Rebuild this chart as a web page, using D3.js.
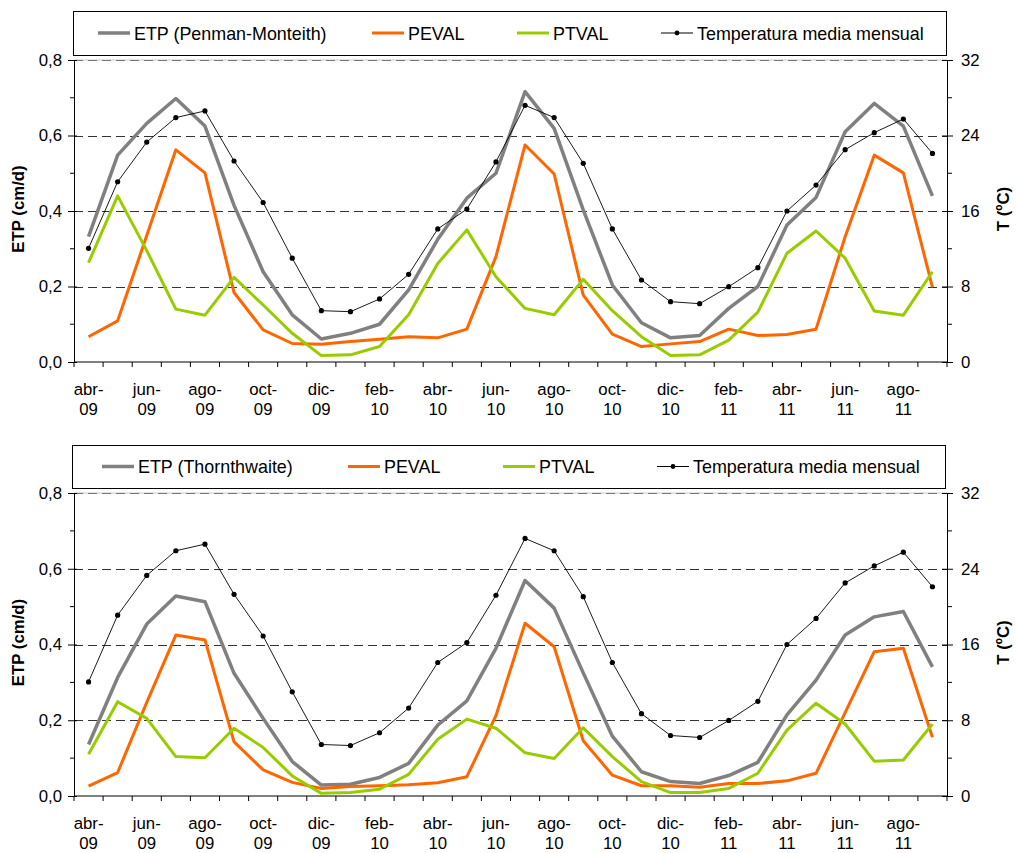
<!DOCTYPE html>
<html>
<head>
<meta charset="utf-8">
<script src="https://cdn.jsdelivr.net/npm/d3@7"></script>
<style>
    body { margin: 0; background: #fff; }
    svg text { font-family: "Liberation Sans", Arial, sans-serif; fill: #000; }
</style>
</head>
<body>
<svg id="chart" width="1016" height="853"></svg>
<script>
// months abr-09 .. sep-11
var months = ["abr-09", "may-09", "jun-09", "jul-09", "ago-09", "sep-09", "oct-09", "nov-09", "dic-09",
    "ene-10", "feb-10", "mar-10", "abr-10", "may-10", "jun-10", "jul-10", "ago-10", "sep-10", "oct-10",
    "nov-10", "dic-10", "ene-11", "feb-11", "mar-11", "abr-11", "may-11", "jun-11", "jul-11", "ago-11", "sep-11"];

// temperatura media mensual (ºC)
var temp = [12.05, 19.1, 23.3, 25.9, 26.6, 21.3, 16.9, 11.0, 5.44, 5.33, 6.68, 9.29, 14.1, 16.2, 21.2,
    27.2, 25.9, 21.05, 14.1, 8.69, 6.39, 6.18, 7.98, 10.0, 16.0, 18.75, 22.5, 24.3, 25.75, 22.1];

// panel 1 (cm/d)
var etpPM = [0.332, 0.548, 0.632, 0.698, 0.625, 0.415, 0.239, 0.125, 0.061, 0.076, 0.100, 0.191, 0.325, 0.434, 0.500,
    0.716, 0.619, 0.403, 0.204, 0.104, 0.064, 0.070, 0.142, 0.200, 0.363, 0.436, 0.610, 0.685, 0.625, 0.440];
var pevalPM = [0.067, 0.109, 0.335, 0.562, 0.501, 0.184, 0.085, 0.049, 0.047, 0.054, 0.060, 0.067, 0.064, 0.087, 0.279,
    0.575, 0.498, 0.177, 0.074, 0.041, 0.048, 0.054, 0.087, 0.070, 0.073, 0.087, 0.332, 0.548, 0.501, 0.198];
var ptvalPM = [0.263, 0.440, 0.295, 0.140, 0.124, 0.224, 0.151, 0.076, 0.017, 0.019, 0.041, 0.125, 0.261, 0.350, 0.226,
    0.142, 0.125, 0.219, 0.136, 0.067, 0.017, 0.019, 0.058, 0.132, 0.288, 0.347, 0.275, 0.135, 0.124, 0.239];

// panel 2 (cm/d)
var etpTH = [0.136, 0.313, 0.454, 0.528, 0.513, 0.324, 0.205, 0.091, 0.029, 0.031, 0.049, 0.086, 0.187, 0.251, 0.390,
    0.569, 0.496, 0.325, 0.158, 0.064, 0.038, 0.033, 0.054, 0.089, 0.214, 0.306, 0.425, 0.473, 0.487, 0.341];
var pevalTH = [0.026, 0.062, 0.247, 0.425, 0.412, 0.143, 0.069, 0.036, 0.020, 0.025, 0.027, 0.030, 0.035, 0.051, 0.212,
    0.456, 0.394, 0.146, 0.055, 0.027, 0.027, 0.023, 0.033, 0.033, 0.040, 0.060, 0.220, 0.381, 0.390, 0.155];
var ptvalTH = [0.110, 0.249, 0.205, 0.104, 0.101, 0.179, 0.128, 0.053, 0.007, 0.009, 0.018, 0.057, 0.150, 0.203, 0.179,
    0.114, 0.099, 0.180, 0.104, 0.038, 0.009, 0.009, 0.020, 0.060, 0.174, 0.245, 0.190, 0.092, 0.095, 0.190];

var etpTicks = [0, 0.2, 0.4, 0.6, 0.8],
    etpMinor = [0.1, 0.3, 0.5, 0.7],
    tTicks = [0, 8, 16, 24, 32],
    tMinor = [4, 12, 20, 28];

var colors = { etp: "#808080", peval: "#ff6600", ptval: "#99cc00", temp: "#000" };

window.onload = function()
{
    main();
};

function main()
{
    var svg = d3.select("#chart");

    _drawPanel(svg, {
        top: 60, bottom: 362, left: 74, right: 947,
        legend: { x0: 73, x1: 946, y0: 11, y1: 55, items: [98, 372, 517, 661] },
        etpName: "ETP (Penman-Monteith)",
        etp: etpPM, peval: pevalPM, ptval: ptvalPM
    });

    _drawPanel(svg, {
        top: 493, bottom: 796, left: 74, right: 947,
        legend: { x0: 72, x1: 945, y0: 445, y1: 488, items: [102, 348, 503, 657] },
        etpName: "ETP (Thornthwaite)",
        etp: etpTH, peval: pevalTH, ptval: ptvalTH
    });
}

function _drawPanel(svg, p)
{
    var g = svg.append("g"),
        x = d3.scaleBand().domain(months).range([p.left, p.right]).padding(0),
        y = d3.scaleLinear().domain([0, 0.8]).range([p.bottom, p.top]),
        yT = d3.scaleLinear().domain([0, 32]).range([p.bottom, p.top]),
        cx = function(d, i) { return x(months[i]) + x.bandwidth() / 2; },
        fmt = function(d) { return d3.format(".1f")(d).replace(".", ","); };

    // top light border + dashed grid
    g.append("line")
        .attr("x1", p.left).attr("x2", p.right)
        .attr("y1", y(0.8)).attr("y2", y(0.8))
        .attr("stroke", "#c8c8c8").attr("stroke-width", 1);
    g.selectAll(".grid")
        .data(etpTicks.slice(1))
        .enter().append("line")
        .attr("x1", p.left).attr("x2", p.right)
        .attr("y1", function(d) { return Math.round(y(d)) + 0.5; })
        .attr("y2", function(d) { return Math.round(y(d)) + 0.5; })
        .attr("stroke", function(d) { return d == 0.8 ? "#777" : "#333"; })
        .attr("stroke-width", 1)
        .attr("stroke-dasharray", "9,5");

    // left axis
    var left = g.append("g")
        .attr("transform", "translate(" + p.left + ",0)")
        .call(d3.axisLeft(y).tickValues(etpTicks).tickFormat(fmt).tickSizeInner(6).tickSizeOuter(0).tickPadding(6));
    _styleAxis(left);
    left.selectAll(".tick").append("line").attr("x2", 3).attr("stroke", "#000");
    g.selectAll(".lminor")
        .data(etpMinor)
        .enter().append("line")
        .attr("x1", p.left - 4).attr("x2", p.left)
        .attr("y1", function(d) { return y(d); }).attr("y2", function(d) { return y(d); })
        .attr("stroke", "#000");

    // right axis
    var right = g.append("g")
        .attr("transform", "translate(" + p.right + ",0)")
        .call(d3.axisRight(yT).tickValues(tTicks).tickSizeInner(6).tickSizeOuter(0).tickPadding(8));
    _styleAxis(right);
    right.selectAll(".tick").append("line").attr("x2", -5).attr("stroke", "#000");
    g.selectAll(".rminor")
        .data(tMinor)
        .enter().append("line")
        .attr("x1", p.right).attr("x2", p.right + 5)
        .attr("y1", function(d) { return yT(d); }).attr("y2", function(d) { return yT(d); })
        .attr("stroke", "#000");

    // bottom axis: ticks at band boundaries
    g.append("line")
        .attr("x1", p.left).attr("x2", p.right)
        .attr("y1", p.bottom).attr("y2", p.bottom)
        .attr("stroke", "#000");
    g.selectAll(".xtick")
        .data(months.concat(["end"]))
        .enter().append("line")
        .attr("x1", function(d) { return d == "end" ? p.right : x(d); })
        .attr("x2", function(d) { return d == "end" ? p.right : x(d); })
        .attr("y1", p.bottom).attr("y2", p.bottom + 5)
        .attr("stroke", "#000");
    var lbl = g.selectAll(".xlabel")
        .data(months.filter(function(d, i) { return i % 2 == 0; }))
        .enter().append("text")
        .attr("text-anchor", "middle")
        .attr("font-size", 16.8)
        .attr("x", function(d) { return x(d) + x.bandwidth() / 2; })
        .attr("y", p.bottom + 33);
    lbl.append("tspan").text(function(d) { return d.split("-")[0] + "-"; });
    lbl.append("tspan")
        .attr("x", function(d) { return x(d) + x.bandwidth() / 2; })
        .attr("dy", 20)
        .text(function(d) { return d.split("-")[1]; });

    // axis titles
    var mid = (p.top + p.bottom) / 2 - 2;
    g.append("text")
        .attr("transform", "translate(24," + mid + ") rotate(-90)")
        .attr("text-anchor", "middle")
        .attr("font-size", 16.8).attr("font-weight", "bold")
        .text("ETP (cm/d)");
    g.append("text")
        .attr("transform", "translate(1009," + mid + ") rotate(-90)")
        .attr("text-anchor", "middle")
        .attr("font-size", 16.8).attr("font-weight", "bold")
        .text("T (ºC)");

    // series
    var line = d3.line().x(cx).y(function(d) { return y(d); }),
        lineT = d3.line().x(cx).y(function(d) { return yT(d); });

    g.append("path").datum(p.etp).attr("d", line)
        .attr("fill", "none").attr("stroke", colors.etp).attr("stroke-width", 3.5).attr("stroke-linejoin", "round");
    g.append("path").datum(p.peval).attr("d", line)
        .attr("fill", "none").attr("stroke", colors.peval).attr("stroke-width", 3).attr("stroke-linejoin", "round");
    g.append("path").datum(p.ptval).attr("d", line)
        .attr("fill", "none").attr("stroke", colors.ptval).attr("stroke-width", 3).attr("stroke-linejoin", "round");
    g.append("path").datum(temp).attr("d", lineT)
        .attr("fill", "none").attr("stroke", colors.temp).attr("stroke-width", 0.9);
    g.selectAll(".dot")
        .data(temp)
        .enter().append("circle")
        .attr("cx", cx).attr("cy", function(d) { return yT(d); })
        .attr("r", 2.6).attr("fill", "#000");

    // legend
    var L = p.legend,
        ly = (L.y0 + L.y1) / 2,
        items = [
            { name: p.etpName, color: colors.etp, w: 3.5 },
            { name: "PEVAL", color: colors.peval, w: 3 },
            { name: "PTVAL", color: colors.ptval, w: 3 },
            { name: "Temperatura media mensual", color: colors.temp, w: 1, dot: true }
        ];
    g.append("rect")
        .attr("x", L.x0 + 0.5).attr("y", L.y0 + 0.5)
        .attr("width", L.x1 - L.x0).attr("height", L.y1 - L.y0)
        .attr("fill", "#fff").attr("stroke", "#000");
    items.forEach(function(it, i)
    {
        var x0 = L.items[i];
        g.append("line")
            .attr("x1", x0).attr("x2", x0 + 32)
            .attr("y1", ly).attr("y2", ly)
            .attr("stroke", it.color).attr("stroke-width", it.w);
        if (it.dot)
        {
            g.append("circle").attr("cx", x0 + 16).attr("cy", ly).attr("r", 2.4).attr("fill", "#000");
        }
        g.append("text")
            .attr("x", x0 + 36).attr("y", ly + 6.5)
            .attr("font-size", 17.9)
            .text(it.name);
    });
}

function _styleAxis(sel)
{
    sel.select(".domain").attr("stroke", "#000");
    sel.selectAll(".tick line").attr("stroke", "#000");
    sel.selectAll(".tick text").attr("font-size", 16.8).attr("fill", "#000")
        .style("font-family", "'Liberation Sans', Arial, sans-serif");
}
</script>
</body>
</html>
